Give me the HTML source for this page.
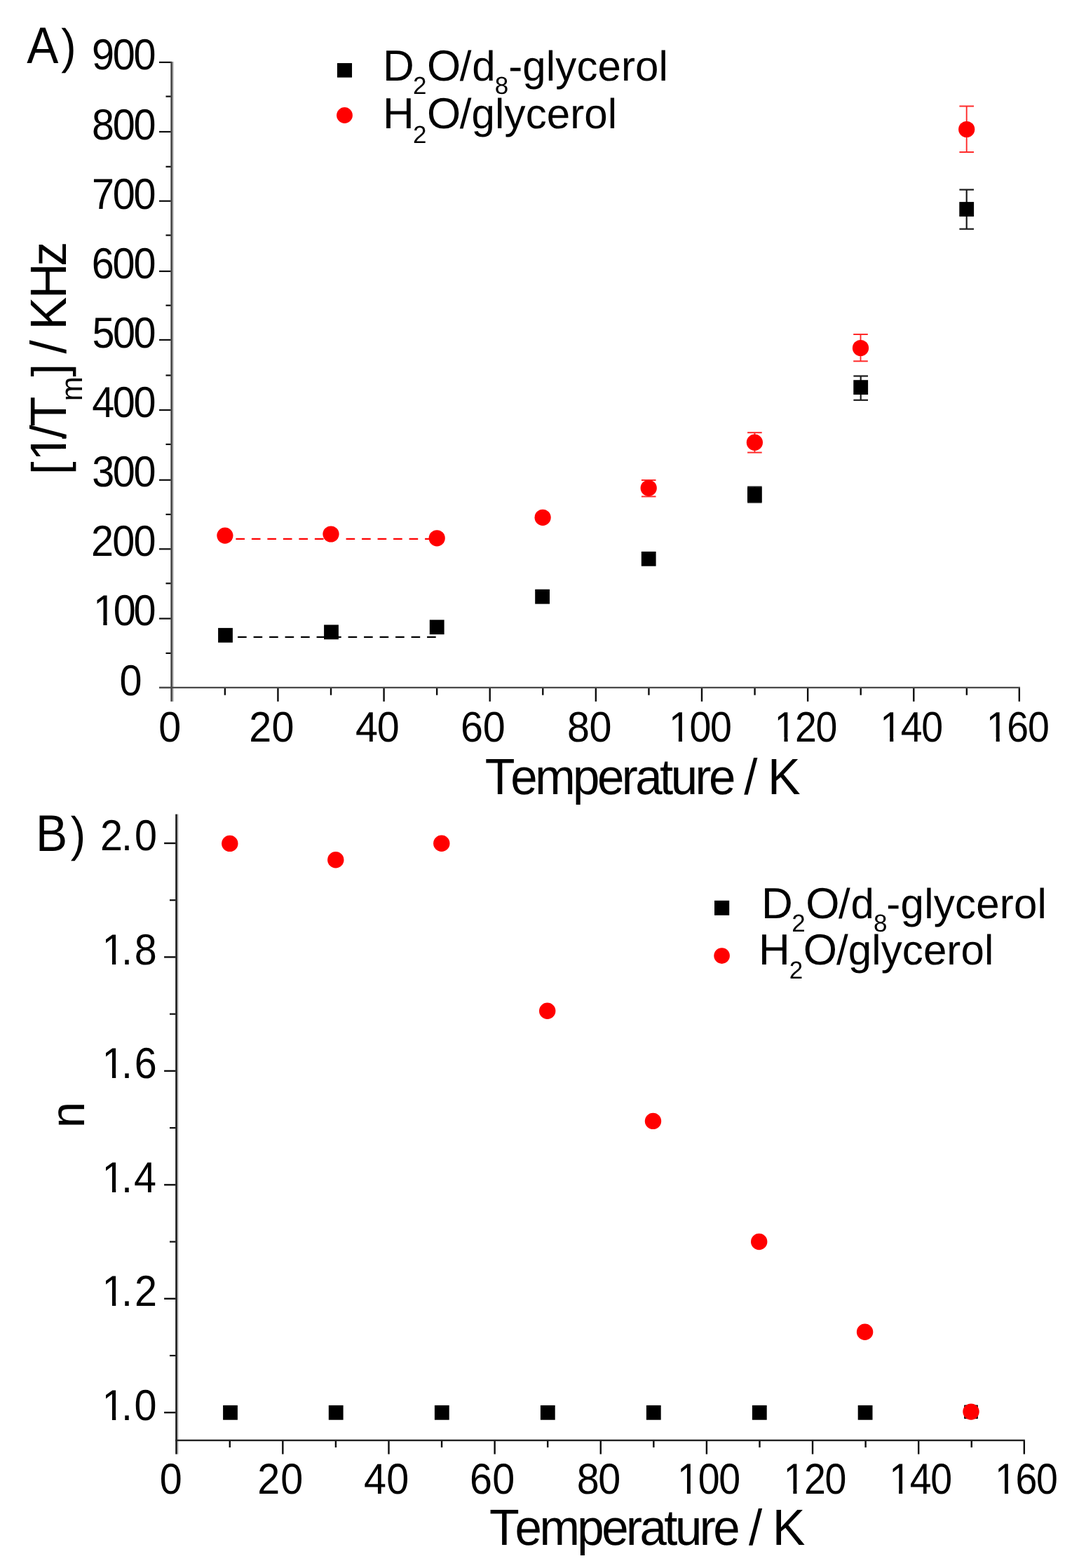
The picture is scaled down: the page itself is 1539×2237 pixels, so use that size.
<!DOCTYPE html>
<html lang="en">
<head>
<meta charset="utf-8">
<title>Temperature dependence of 1/Tm and n</title>
<style>
html,body{margin:0;padding:0;background:#fff;}
body{width:1539px;height:2237px;overflow:hidden;}
svg{display:block;}
text{font-family:"Liberation Sans",sans-serif;white-space:pre;font-kerning:none;font-variant-ligatures:none;text-rendering:geometricPrecision;}
</style>
</head>
<body>
<svg width="1539" height="2237" viewBox="0 0 1539 2237" role="img" aria-label="A) 1/Tm in KHz and B) n versus temperature in K for D2O/d8-glycerol and H2O/glycerol">
<rect x="0" y="0" width="1539" height="2237" fill="#fff"/>
<!-- ================= Panel A : 1/Tm vs temperature ================= -->
<g id="axes-a">
<rect x="227.00" y="979.90" width="18.00" height="2.20" fill="#0d0d0d"/>
<rect x="227.00" y="881.40" width="18.00" height="2.20" fill="#0d0d0d"/>
<rect x="227.00" y="782.20" width="18.00" height="2.20" fill="#0d0d0d"/>
<rect x="227.00" y="683.70" width="18.00" height="2.20" fill="#0d0d0d"/>
<rect x="227.00" y="583.90" width="18.00" height="2.20" fill="#0d0d0d"/>
<rect x="227.00" y="483.80" width="18.00" height="2.20" fill="#0d0d0d"/>
<rect x="227.00" y="385.90" width="18.00" height="2.20" fill="#0d0d0d"/>
<rect x="227.00" y="285.70" width="18.00" height="2.20" fill="#0d0d0d"/>
<rect x="227.00" y="186.90" width="18.00" height="2.20" fill="#0d0d0d"/>
<rect x="227.00" y="87.80" width="18.00" height="2.20" fill="#0d0d0d"/>
<rect x="236.50" y="930.80" width="8.50" height="2.20" fill="#0d0d0d"/>
<rect x="236.50" y="831.20" width="8.50" height="2.20" fill="#0d0d0d"/>
<rect x="236.50" y="732.80" width="8.50" height="2.20" fill="#0d0d0d"/>
<rect x="236.50" y="632.80" width="8.50" height="2.20" fill="#0d0d0d"/>
<rect x="236.50" y="534.40" width="8.50" height="2.20" fill="#0d0d0d"/>
<rect x="236.50" y="434.60" width="8.50" height="2.20" fill="#0d0d0d"/>
<rect x="236.50" y="334.50" width="8.50" height="2.20" fill="#0d0d0d"/>
<rect x="236.50" y="236.70" width="8.50" height="2.20" fill="#0d0d0d"/>
<rect x="236.50" y="136.50" width="8.50" height="2.20" fill="#0d0d0d"/>
<rect x="319.67" y="981.00" width="2.40" height="10.70" fill="#0d0d0d"/>
<rect x="395.24" y="981.00" width="2.40" height="19.80" fill="#0d0d0d"/>
<rect x="470.81" y="981.00" width="2.40" height="10.70" fill="#0d0d0d"/>
<rect x="546.38" y="981.00" width="2.40" height="19.80" fill="#0d0d0d"/>
<rect x="621.95" y="981.00" width="2.40" height="10.70" fill="#0d0d0d"/>
<rect x="697.52" y="981.00" width="2.40" height="19.80" fill="#0d0d0d"/>
<rect x="773.09" y="981.00" width="2.40" height="10.70" fill="#0d0d0d"/>
<rect x="848.66" y="981.00" width="2.40" height="19.80" fill="#0d0d0d"/>
<rect x="924.23" y="981.00" width="2.40" height="10.70" fill="#0d0d0d"/>
<rect x="999.80" y="981.00" width="2.40" height="19.80" fill="#0d0d0d"/>
<rect x="1075.37" y="981.00" width="2.40" height="10.70" fill="#0d0d0d"/>
<rect x="1150.94" y="981.00" width="2.40" height="19.80" fill="#0d0d0d"/>
<rect x="1226.51" y="981.00" width="2.40" height="10.70" fill="#0d0d0d"/>
<rect x="1302.08" y="981.00" width="2.40" height="19.80" fill="#0d0d0d"/>
<rect x="1377.65" y="981.00" width="2.40" height="10.70" fill="#0d0d0d"/>
<rect x="1452.62" y="981.00" width="2.40" height="19.80" fill="#0d0d0d"/>
<rect x="243.30" y="88.00" width="3.10" height="912.80" fill="#4a4a4a"/>
<rect x="246.40" y="88.00" width="1.60" height="912.80" fill="#c6c6c6"/>
<rect x="227.00" y="979.80" width="1228.00" height="2.30" fill="#4a4a4a"/>
</g>
<g id="ticklabels-a">
<text transform="scale(1 1.076)"><tspan x="131.00" y="92.47" font-size="57.5" letter-spacing="-2.25">900</tspan></text>
<text transform="scale(1 1.076)"><tspan x="131.10" y="184.59" font-size="57.5" letter-spacing="-2.30">800</tspan></text>
<text transform="scale(1 1.076)"><tspan x="131.05" y="276.71" font-size="57.5" letter-spacing="-2.27">700</tspan></text>
<text transform="scale(1 1.076)"><tspan x="130.68" y="368.84" font-size="57.5" letter-spacing="-2.09">600</tspan></text>
<text transform="scale(1 1.076)"><tspan x="131.50" y="460.96" font-size="57.5" letter-spacing="-2.49">500</tspan></text>
<text transform="scale(1 1.076)"><tspan x="131.28" y="553.08" font-size="57.5" letter-spacing="-2.39">400</tspan></text>
<text transform="scale(1 1.076)"><tspan x="131.21" y="645.20" font-size="57.5" letter-spacing="-2.35">300</tspan></text>
<text transform="scale(1 1.076)"><tspan x="130.11" y="737.32" font-size="57.5" letter-spacing="-1.80">200</tspan></text>
<g transform="scale(1 1.076)"><text><tspan x="132.99" y="829.44" font-size="57.5" letter-spacing="-3.24">100</tspan></text><rect x="136.07" y="823.84" width="11.28" height="6.80" fill="#fff"/><rect x="152.63" y="823.84" width="10.83" height="6.80" fill="#fff"/></g>
<text transform="scale(1 1.076)"><tspan x="170.55" y="921.56" font-size="57.5">0</tspan></text>
<text transform="scale(1 1.059)"><tspan x="226.35" y="998.87" font-size="57.5">0</tspan></text>
<text transform="scale(1 1.059)"><tspan x="355.21" y="998.87" font-size="57.5" letter-spacing="0.38">20</tspan></text>
<text transform="scale(1 1.059)"><tspan x="506.88" y="998.87" font-size="57.5" letter-spacing="-1.19">40</tspan></text>
<text transform="scale(1 1.059)"><tspan x="657.08" y="998.87" font-size="57.5" letter-spacing="-0.19">60</tspan></text>
<text transform="scale(1 1.059)"><tspan x="809.00" y="998.87" font-size="57.5" letter-spacing="-0.51">80</tspan></text>
<g transform="scale(1 1.097)"><text><tspan x="954.01" y="964.27" font-size="55.5" letter-spacing="-1.37">100</tspan></text><rect x="956.94" y="958.82" width="10.93" height="6.65" fill="#fff"/><rect x="972.97" y="958.82" width="10.50" height="6.65" fill="#fff"/></g>
<g transform="scale(1 1.097)"><text><tspan x="1104.61" y="964.27" font-size="55.5" letter-spacing="-1.47">120</tspan></text><rect x="1107.54" y="958.82" width="10.93" height="6.65" fill="#fff"/><rect x="1123.57" y="958.82" width="10.50" height="6.65" fill="#fff"/></g>
<g transform="scale(1 1.097)"><text><tspan x="1255.31" y="964.27" font-size="55.5" letter-spacing="-1.37">140</tspan></text><rect x="1258.24" y="958.82" width="10.93" height="6.65" fill="#fff"/><rect x="1274.27" y="958.82" width="10.50" height="6.65" fill="#fff"/></g>
<g transform="scale(1 1.097)"><text><tspan x="1406.81" y="964.27" font-size="55.5" letter-spacing="-1.32">160</tspan></text><rect x="1409.74" y="958.82" width="10.93" height="6.65" fill="#fff"/><rect x="1425.77" y="958.82" width="10.50" height="6.65" fill="#fff"/></g>
</g>
<g id="titles-a">
<text transform="scale(1 1.04)"><tspan x="691.73" y="1089.90" font-size="70">T</tspan><tspan x="728.37" y="1089.90" font-size="69" letter-spacing="-3.55">emperature </tspan><tspan x="1061.30" y="1089.90" font-size="69">/ </tspan><tspan x="1094.96" y="1089.90" font-size="70">K</tspan></text>
<text transform="scale(0.94 1.02)"><tspan x="40.60" y="87.84" font-size="72">A</tspan><tspan x="92.69" y="87.84" font-size="68">)</tspan></text>
<g transform="translate(94.00 672.20) rotate(-90) scale(1 1.04)"><text><tspan x="-4.74" y="0.00" font-size="66.5">[</tspan><tspan x="14.53" y="0.00" font-size="70">1</tspan><tspan x="46.70" y="0.00" font-size="69">/</tspan><tspan x="63.63" y="0.00" font-size="70">T</tspan><tspan x="100.01" y="22.31" font-size="42">m</tspan><tspan x="134.68" y="0.00" font-size="66.5">] </tspan><tspan x="167.60" y="0.00" font-size="69">/ </tspan><tspan x="201.66" y="0.00" font-size="70" letter-spacing="-2.09">KH</tspan><tspan x="292.46" y="0.00" font-size="70">z</tspan></text><rect x="18.56" y="-6.53" width="13.47" height="7.73" fill="#fff"/><rect x="38.42" y="-6.53" width="7.93" height="7.73" fill="#fff"/></g>
</g>
<g id="fits-a">
<line x1="336.4" y1="768.9" x2="472.0" y2="768.9" stroke="#f00" stroke-width="2.3" stroke-dasharray="12.6 9.9"/>
<line x1="493.6" y1="768.9" x2="623.0" y2="768.9" stroke="#f00" stroke-width="2.3" stroke-dasharray="12.6 9.9"/>
<line x1="339.1" y1="908.8" x2="622" y2="908.8" stroke="#000" stroke-width="2.3" stroke-dasharray="12.6 9.9"/>
</g>
<g id="series-a-d2o">
<rect x="311.10" y="895.90" width="20.80" height="20.80"/>
<rect x="462.10" y="891.40" width="20.80" height="20.80"/>
<rect x="612.80" y="884.30" width="20.80" height="20.80"/>
<rect x="763.20" y="840.80" width="20.80" height="20.80"/>
<rect x="914.80" y="786.90" width="20.80" height="20.80"/>
<rect x="1075.30" y="694.70" width="2.20" height="21.90" fill="#1c1c1c"/>
<rect x="1066.10" y="693.60" width="20.60" height="2.20" fill="#1c1c1c"/>
<rect x="1066.10" y="715.50" width="20.60" height="2.20" fill="#1c1c1c"/>
<rect x="1066.00" y="695.30" width="20.80" height="20.80"/>
<rect x="1226.60" y="536.50" width="2.20" height="34.30" fill="#1c1c1c"/>
<rect x="1217.40" y="535.40" width="20.60" height="2.20" fill="#1c1c1c"/>
<rect x="1217.40" y="569.70" width="20.60" height="2.20" fill="#1c1c1c"/>
<rect x="1217.30" y="542.20" width="20.80" height="20.80"/>
<rect x="1377.60" y="270.60" width="2.20" height="56.10" fill="#1c1c1c"/>
<rect x="1368.40" y="269.50" width="20.60" height="2.20" fill="#1c1c1c"/>
<rect x="1368.40" y="325.60" width="20.60" height="2.20" fill="#1c1c1c"/>
<rect x="1368.30" y="288.10" width="20.80" height="20.80"/>
</g>
<g id="series-a-h2o">
<circle cx="320.90" cy="764.10" r="11.6" fill="#f00"/>
<circle cx="472.00" cy="762.00" r="11.6" fill="#f00"/>
<circle cx="623.20" cy="767.80" r="11.6" fill="#f00"/>
<circle cx="774.10" cy="738.30" r="11.6" fill="#f00"/>
<rect x="924.25" y="685.00" width="1.90" height="23.40" fill="#ff2a2a"/>
<rect x="914.90" y="684.00" width="20.60" height="2.00" fill="#ff2a2a"/>
<rect x="914.90" y="707.40" width="20.60" height="2.00" fill="#ff2a2a"/>
<circle cx="925.20" cy="696.30" r="11.6" fill="#f00"/>
<rect x="1075.45" y="617.20" width="1.90" height="28.40" fill="#ff2a2a"/>
<rect x="1066.10" y="616.20" width="20.60" height="2.00" fill="#ff2a2a"/>
<rect x="1066.10" y="644.60" width="20.60" height="2.00" fill="#ff2a2a"/>
<circle cx="1076.40" cy="631.20" r="11.6" fill="#f00"/>
<rect x="1226.55" y="477.00" width="1.90" height="38.30" fill="#ff2a2a"/>
<rect x="1217.20" y="476.00" width="20.60" height="2.00" fill="#ff2a2a"/>
<rect x="1217.20" y="514.30" width="20.60" height="2.00" fill="#ff2a2a"/>
<circle cx="1227.50" cy="496.50" r="11.6" fill="#f00"/>
<rect x="1377.75" y="151.50" width="1.90" height="65.50" fill="#ff2a2a"/>
<rect x="1368.40" y="150.50" width="20.60" height="2.00" fill="#ff2a2a"/>
<rect x="1368.40" y="216.00" width="20.60" height="2.00" fill="#ff2a2a"/>
<circle cx="1378.70" cy="184.50" r="11.6" fill="#f00"/>
</g>
<g id="legend-a">
<rect x="480.95" y="90.05" width="21.10" height="20.50"/>
<circle cx="491.50" cy="164.50" r="11.4" fill="#f00"/>
<text><tspan x="546.01" y="114.60" font-size="62">D</tspan><tspan x="589.04" y="133.60" font-size="35">2</tspan><tspan x="608.96" y="114.60" font-size="62">O</tspan><tspan x="655.80" y="114.60" font-size="60" letter-spacing="0.83">/d</tspan><tspan x="705.78" y="133.60" font-size="35">8</tspan><tspan x="725.23" y="114.60" font-size="60" letter-spacing="0.12">-glycerol</tspan></text>
<text><tspan x="546.01" y="183.40" font-size="62">H</tspan><tspan x="589.04" y="203.60" font-size="35">2</tspan><tspan x="608.96" y="183.40" font-size="62">O</tspan><tspan x="655.80" y="183.40" font-size="60" letter-spacing="0.12">/glycerol</tspan></text>
</g>
<!-- ================= Panel B : n vs temperature ================= -->
<g id="axes-b">
<rect x="234.10" y="2014.00" width="16.40" height="2.40" fill="#0d0d0d"/>
<rect x="242.00" y="1932.88" width="8.50" height="2.20" fill="#0d0d0d"/>
<rect x="234.10" y="1851.56" width="16.40" height="2.40" fill="#0d0d0d"/>
<rect x="242.00" y="1770.44" width="8.50" height="2.20" fill="#0d0d0d"/>
<rect x="234.10" y="1689.12" width="16.40" height="2.40" fill="#0d0d0d"/>
<rect x="242.00" y="1608.00" width="8.50" height="2.20" fill="#0d0d0d"/>
<rect x="234.10" y="1526.68" width="16.40" height="2.40" fill="#0d0d0d"/>
<rect x="242.00" y="1445.56" width="8.50" height="2.20" fill="#0d0d0d"/>
<rect x="234.10" y="1364.24" width="16.40" height="2.40" fill="#0d0d0d"/>
<rect x="242.00" y="1283.12" width="8.50" height="2.20" fill="#0d0d0d"/>
<rect x="234.10" y="1201.80" width="16.40" height="2.40" fill="#0d0d0d"/>
<rect x="326.57" y="2054.90" width="2.40" height="10.10" fill="#0d0d0d"/>
<rect x="402.14" y="2054.90" width="2.40" height="19.70" fill="#0d0d0d"/>
<rect x="477.71" y="2054.90" width="2.40" height="10.10" fill="#0d0d0d"/>
<rect x="553.28" y="2054.90" width="2.40" height="19.70" fill="#0d0d0d"/>
<rect x="628.85" y="2054.90" width="2.40" height="10.10" fill="#0d0d0d"/>
<rect x="704.42" y="2054.90" width="2.40" height="19.70" fill="#0d0d0d"/>
<rect x="779.99" y="2054.90" width="2.40" height="10.10" fill="#0d0d0d"/>
<rect x="855.56" y="2054.90" width="2.40" height="19.70" fill="#0d0d0d"/>
<rect x="931.13" y="2054.90" width="2.40" height="10.10" fill="#0d0d0d"/>
<rect x="1006.70" y="2054.90" width="2.40" height="19.70" fill="#0d0d0d"/>
<rect x="1082.27" y="2054.90" width="2.40" height="10.10" fill="#0d0d0d"/>
<rect x="1157.84" y="2054.90" width="2.40" height="19.70" fill="#0d0d0d"/>
<rect x="1233.41" y="2054.90" width="2.40" height="10.10" fill="#0d0d0d"/>
<rect x="1308.98" y="2054.90" width="2.40" height="19.70" fill="#0d0d0d"/>
<rect x="1384.55" y="2054.90" width="2.40" height="10.10" fill="#0d0d0d"/>
<rect x="1459.62" y="2054.90" width="2.40" height="19.70" fill="#0d0d0d"/>
<rect x="250.20" y="1161.60" width="2.70" height="913.00" fill="#1a1a1a"/>
<rect x="252.90" y="1161.60" width="1.80" height="913.00" fill="#c6c6c6"/>
<rect x="250.20" y="2053.70" width="1211.70" height="2.40" fill="#222"/>
</g>
<g id="ticklabels-b">
<g transform="scale(1 1.076)"><text><tspan x="145.59" y="1882.62" font-size="57.5">1</tspan><tspan x="172.95" y="1882.62" font-size="57.5">.</tspan><tspan x="191.47" y="1882.62" font-size="57.5">0</tspan></text><rect x="148.67" y="1877.03" width="11.28" height="6.80" fill="#fff"/><rect x="165.23" y="1877.03" width="10.83" height="6.80" fill="#fff"/></g>
<g transform="scale(1 1.076)"><text><tspan x="145.59" y="1731.65" font-size="57.5">1</tspan><tspan x="172.95" y="1731.65" font-size="57.5">.</tspan><tspan x="192.11" y="1731.65" font-size="57.5">2</tspan></text><rect x="148.67" y="1726.06" width="11.28" height="6.80" fill="#fff"/><rect x="165.23" y="1726.06" width="10.83" height="6.80" fill="#fff"/></g>
<g transform="scale(1 1.076)"><text><tspan x="145.59" y="1580.69" font-size="57.5">1</tspan><tspan x="172.95" y="1580.69" font-size="57.5">.</tspan><tspan x="190.91" y="1580.69" font-size="57.5">4</tspan></text><rect x="148.67" y="1575.09" width="11.28" height="6.80" fill="#fff"/><rect x="165.23" y="1575.09" width="10.83" height="6.80" fill="#fff"/></g>
<g transform="scale(1 1.076)"><text><tspan x="145.59" y="1429.72" font-size="57.5">1</tspan><tspan x="172.95" y="1429.72" font-size="57.5">.</tspan><tspan x="191.75" y="1429.72" font-size="57.5">6</tspan></text><rect x="148.67" y="1424.13" width="11.28" height="6.80" fill="#fff"/><rect x="165.23" y="1424.13" width="10.83" height="6.80" fill="#fff"/></g>
<g transform="scale(1 1.076)"><text><tspan x="145.59" y="1278.75" font-size="57.5">1</tspan><tspan x="172.95" y="1278.75" font-size="57.5">.</tspan><tspan x="191.72" y="1278.75" font-size="57.5">8</tspan></text><rect x="148.67" y="1273.16" width="11.28" height="6.80" fill="#fff"/><rect x="165.23" y="1273.16" width="10.83" height="6.80" fill="#fff"/></g>
<text transform="scale(1 1.076)"><tspan x="142.91" y="1127.79" font-size="57.5">2</tspan><tspan x="172.95" y="1127.79" font-size="57.5">.</tspan><tspan x="192.07" y="1127.79" font-size="57.5">0</tspan></text>
<text transform="scale(1 1.071)"><tspan x="227.75" y="1989.54" font-size="57.5">0</tspan></text>
<text transform="scale(1 1.071)"><tspan x="367.21" y="1989.54" font-size="57.5" letter-spacing="1.18">20</tspan></text>
<text transform="scale(1 1.071)"><tspan x="518.88" y="1989.54" font-size="57.5" letter-spacing="0.51">40</tspan></text>
<text transform="scale(1 1.071)"><tspan x="669.98" y="1989.54" font-size="57.5" letter-spacing="0.41">60</tspan></text>
<text transform="scale(1 1.071)"><tspan x="822.80" y="1989.54" font-size="57.5" letter-spacing="-1.51">80</tspan></text>
<g transform="scale(1 1.11)"><text><tspan x="966.01" y="1919.64" font-size="55.5" letter-spacing="-1.22">100</tspan></text><rect x="968.94" y="1914.19" width="10.93" height="6.65" fill="#fff"/><rect x="984.97" y="1914.19" width="10.50" height="6.65" fill="#fff"/></g>
<g transform="scale(1 1.11)"><text><tspan x="1117.51" y="1919.64" font-size="55.5" letter-spacing="-1.37">120</tspan></text><rect x="1120.44" y="1914.19" width="10.93" height="6.65" fill="#fff"/><rect x="1136.47" y="1914.19" width="10.50" height="6.65" fill="#fff"/></g>
<g transform="scale(1 1.11)"><text><tspan x="1268.21" y="1919.64" font-size="55.5" letter-spacing="-1.37">140</tspan></text><rect x="1271.14" y="1914.19" width="10.93" height="6.65" fill="#fff"/><rect x="1287.17" y="1914.19" width="10.50" height="6.65" fill="#fff"/></g>
<g transform="scale(1 1.11)"><text><tspan x="1419.11" y="1919.64" font-size="55.5" letter-spacing="-1.47">160</tspan></text><rect x="1422.04" y="1914.19" width="10.93" height="6.65" fill="#fff"/><rect x="1438.07" y="1914.19" width="10.50" height="6.65" fill="#fff"/></g>
</g>
<g id="titles-b">
<text transform="scale(1 1.04)"><tspan x="697.93" y="2119.23" font-size="70">T</tspan><tspan x="734.57" y="2119.23" font-size="69" letter-spacing="-3.53">emperature </tspan><tspan x="1068.10" y="2119.23" font-size="69">/ </tspan><tspan x="1101.76" y="2119.23" font-size="70">K</tspan></text>
<text transform="scale(0.94 1.02)"><tspan x="54.20" y="1190.59" font-size="72">B</tspan><tspan x="107.26" y="1190.59" font-size="68">)</tspan></text>
<text transform="translate(120.00 1604.50) rotate(-90) scale(1 1.03)"><tspan x="-4.42" y="0.00" font-size="66.5">n</tspan></text>
</g>
<g id="series-b-d2o">
<rect x="318.10" y="2004.90" width="20.80" height="20.80"/>
<rect x="468.80" y="2004.90" width="20.80" height="20.80"/>
<rect x="619.90" y="2004.90" width="20.80" height="20.80"/>
<rect x="770.90" y="2004.90" width="20.80" height="20.80"/>
<rect x="921.90" y="2004.90" width="20.80" height="20.80"/>
<rect x="1072.90" y="2004.90" width="20.80" height="20.80"/>
<rect x="1223.70" y="2004.90" width="20.80" height="20.80"/>
<rect x="1375.20" y="2004.50" width="19.60" height="19.60"/>
</g>
<g id="series-b-h2o">
<circle cx="327.80" cy="1203.40" r="11.7" fill="#f00"/>
<circle cx="478.80" cy="1226.70" r="11.7" fill="#f00"/>
<circle cx="629.80" cy="1203.30" r="11.7" fill="#f00"/>
<circle cx="780.70" cy="1442.30" r="11.7" fill="#f00"/>
<circle cx="931.50" cy="1599.40" r="11.7" fill="#f00"/>
<circle cx="1082.70" cy="1771.50" r="11.7" fill="#f00"/>
<circle cx="1233.60" cy="1900.20" r="11.7" fill="#f00"/>
<circle cx="1385.00" cy="2014.10" r="11.7" fill="#f00"/>
</g>
<g id="legend-b">
<rect x="1019.00" y="1284.80" width="21.20" height="21.00"/>
<circle cx="1029.60" cy="1363.60" r="11.3" fill="#f00"/>
<text><tspan x="1086.11" y="1309.80" font-size="62">D</tspan><tspan x="1129.14" y="1329.00" font-size="35">2</tspan><tspan x="1149.16" y="1309.80" font-size="62">O</tspan><tspan x="1196.00" y="1309.80" font-size="60" letter-spacing="0.73">/d</tspan><tspan x="1246.08" y="1329.00" font-size="35">8</tspan><tspan x="1264.33" y="1309.80" font-size="60" letter-spacing="0.23">-glycerol</tspan></text>
<text><tspan x="1081.91" y="1376.40" font-size="62">H</tspan><tspan x="1125.84" y="1396.40" font-size="35">2</tspan><tspan x="1145.76" y="1376.40" font-size="62">O</tspan><tspan x="1193.10" y="1376.40" font-size="60" letter-spacing="0.09">/glycerol</tspan></text>
</g>
</svg>
</body>
</html>
